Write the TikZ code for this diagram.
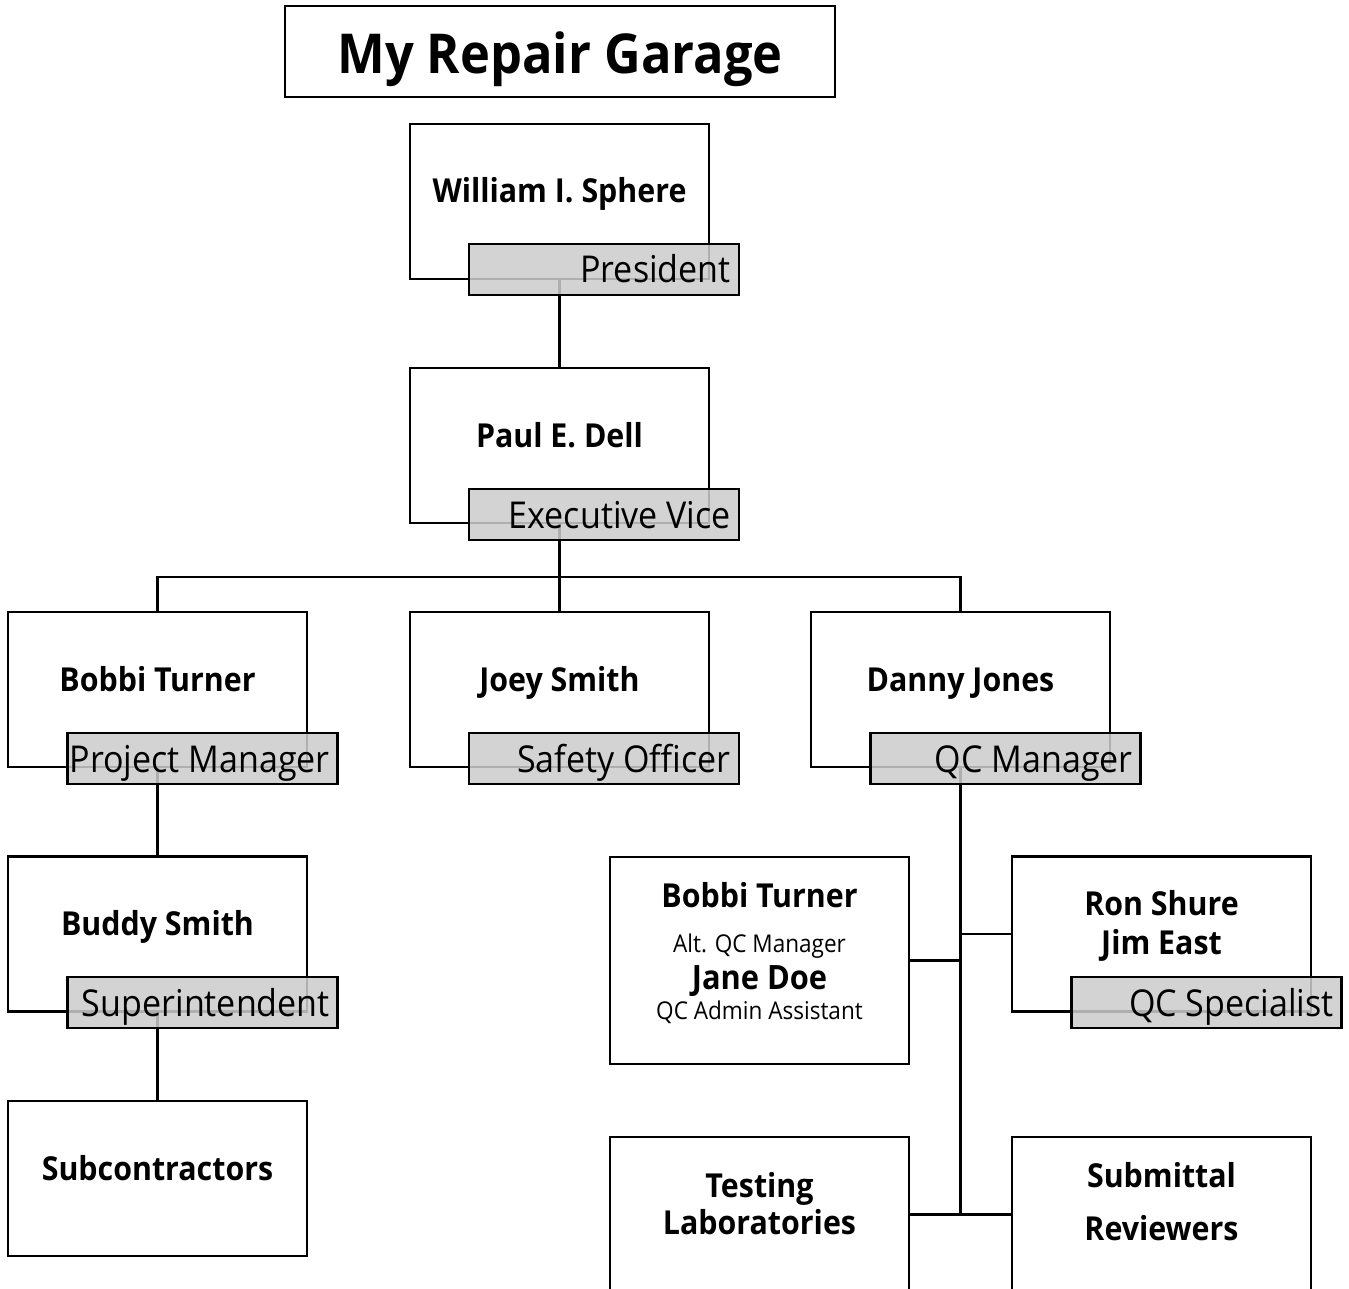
\documentclass[tikz,border=0pt]{standalone}
\usepackage{fontspec}
\setmainfont{Open Sans}[FakeStretch=0.92]
\usetikzlibrary{positioning}
\definecolor{tagfill}{rgb}{0.80,0.80,0.80}
\tikzset{
  person/.style={draw, line width=2.4pt, minimum width=299pt, minimum height=155pt, inner sep=0pt},
  tag/.style={draw, line width=2.4pt, fill=tagfill, fill opacity=0.86, text opacity=1,
    minimum width=270pt, minimum height=51pt, inner sep=0pt},
  tagtext/.style={font=\fontsize{37}{40}\selectfont, anchor=base east, inner sep=0pt},
  nm/.style={font=\fontsize{33}{38}\selectfont\bfseries, anchor=base, inner sep=0pt},
  small/.style={font=\fontsize{24.5}{28}\selectfont, anchor=base, inner sep=0pt},
  link/.style={line width=2.4pt},
}
\begin{document}
\begin{tikzpicture}[x=1pt, y=-1pt]
\useasboundingbox (0,0) rectangle (1349,1289);

% title
\node[draw, line width=1.6pt, minimum width=550pt, minimum height=91pt, inner sep=0pt] (title) at (560,51.5) {};
\node[font=\fontsize{55}{60}\selectfont\bfseries, anchor=base, inner sep=0pt] (titletext) at (560,74) {My Repair Garage};

% person boxes
\node[person] (will)   at (559.5,201.5) {};
\node[person] (paul)   at (559.5,445.5) {};
\node[person] (bobbi)  at (157.5,689.5) {};
\node[person] (joey)   at (559.5,689.5) {};
\node[person] (danny)  at (960.5,689.5) {};
\node[person] (buddy)  at (157.5,934) {};
\node[person] (subs)   at (157.5,1178.5) {};
\node[person, minimum height=207pt] (qcteam) at (759.5,960.5) {};
\node[person] (ron)    at (1161.5,934) {};
\node[person] (labs)   at (759.5,1214.5) {};
\node[person] (review) at (1161.5,1214.5) {};

% connectors
\coordinate (bus) at (559.5,577);
\coordinate (trunk) at (960.5,1214.5);
\draw[link] (will.south) -- (paul.north);
\draw[link] (paul.south) -- (joey.north);
\draw[link] (bobbi.north) |- (bus) -| (danny.north);
\draw[link] (bobbi.south) -- (buddy.north);
\draw[link] (buddy.south) -- (subs.north);
\draw[link] (danny.south) -- (trunk);
\draw[link] (qcteam.east) -- (qcteam.east -| danny.south);
\draw[link] (ron.west) -- (ron.west -| danny.south);
\draw[link] (labs.east) -- (review.west);

% role tags
\node[tag] (tpres)  at (604,269.5) {};
\node[tag] (tev)    at (604,514.5) {};
\node[tag] (tpm)    at (202.5,758.5) {};
\node[tag] (tso)    at (604,758.5) {};
\node[tag] (tqcm)   at (1005.5,758.5) {};
\node[tag] (tsup)   at (202.5,1002.5) {};
\node[tag] (tqcs)   at (1206.5,1002.5) {};

\node[tagtext] at (731,283)  {President};
\node[tagtext] at (731,528)  {Executive Vice};
\node[tagtext] at (330,772)  {Project Manager};
\node[tagtext] at (731,772)  {Safety Officer};
\node[tagtext] at (1133,772) {QC Manager};
\node[tagtext] at (330,1016) {Superintendent};
\node[tagtext] at (1334,1016) {QC Specialist};

% names
\node[nm] at (559.5,203) {William I. Sphere};
\node[nm] at (559.5,447) {Paul E. Dell};
\node[nm] at (157.5,691) {Bobbi Turner};
\node[nm] at (559.5,691) {Joey Smith};
\node[nm] at (960.5,691) {Danny Jones};
\node[nm] at (157.5,935) {Buddy Smith};
\node[nm] at (157.5,1180) {Subcontractors};
\node[nm] at (759.5,907) {Bobbi Turner};
\node[small] at (759.5,952) {Alt. QC Manager};
\node[nm, font=\fontsize{33.5}{38}\selectfont\bfseries] at (759.5,989) {Jane Doe};
\node[small] at (759.5,1019) {QC Admin Assistant};
\node[nm] at (1161.5,915) {Ron Shure};
\node[nm] at (1161.5,954) {Jim East};
\node[nm] at (759.5,1197) {Testing};
\node[nm] at (759.5,1234) {Laboratories};
\node[nm] at (1161.5,1187) {Submittal};
\node[nm] at (1161.5,1240) {Reviewers};
\end{tikzpicture}
\end{document}
